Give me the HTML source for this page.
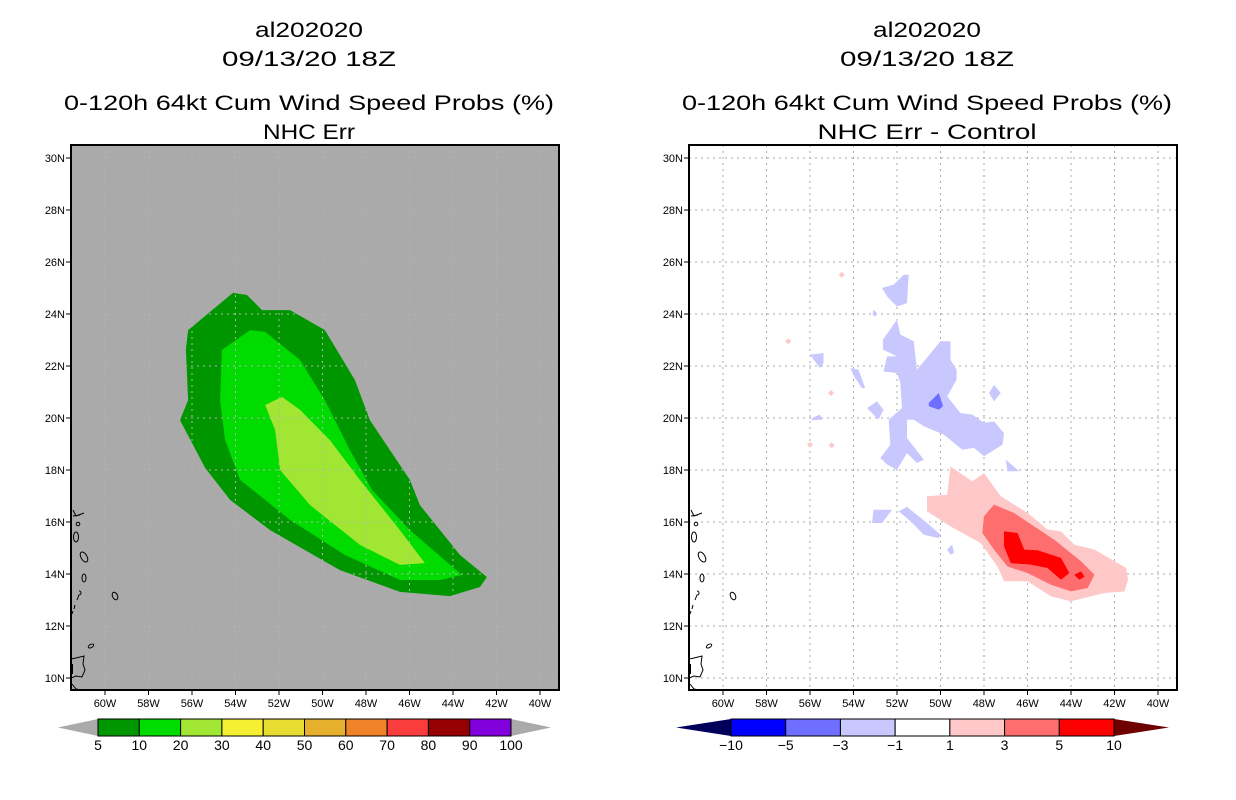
<!DOCTYPE html>
<html><head><meta charset="utf-8"><style>
body{margin:0;background:#fff;width:1236px;height:800px;overflow:hidden}
svg{display:block}
text{font-family:"Liberation Sans",sans-serif}
</style></head><body>
<svg id="s" width="1236" height="800" viewBox="0 0 1236 800">
<g font-size="21" text-anchor="middle" fill="#000" lengthAdjust="spacingAndGlyphs">
<text x="309" y="37" textLength="108" lengthAdjust="spacingAndGlyphs">al202020</text>
<text x="309" y="66" textLength="174" lengthAdjust="spacingAndGlyphs">09/13/20 18Z</text>
<text x="309" y="110" textLength="490" lengthAdjust="spacingAndGlyphs">0-120h 64kt Cum Wind Speed Probs (%)</text>
<text x="309" y="139" textLength="92" lengthAdjust="spacingAndGlyphs">NHC Err</text>
</g>
<g font-size="21" text-anchor="middle" fill="#000">
<text x="927" y="37" textLength="108" lengthAdjust="spacingAndGlyphs">al202020</text>
<text x="927" y="66" textLength="174" lengthAdjust="spacingAndGlyphs">09/13/20 18Z</text>
<text x="927" y="110" textLength="490" lengthAdjust="spacingAndGlyphs">0-120h 64kt Cum Wind Speed Probs (%)</text>
<text x="927" y="139" textLength="219" lengthAdjust="spacingAndGlyphs">NHC Err - Control</text>
</g>
</svg>
<script>
// ---- data ----
const lonTicks=[-60,-58,-56,-54,-52,-50,-48,-46,-44,-42,-40];
const latTicks=[10,12,14,16,18,20,22,24,26,28,30];
const leftLevels=["5","10","20","30","40","50","60","70","80","90","100"];
const leftColors=["#009600","#00dc00","#a0e632","#f5f032","#e6dc32","#e6af2d","#f08228","#fa3c3c","#960000","#8200dc"];
const rightLevels=["-10","-5","-3","-1","1","3","5","10"];
const rightColors=["#0000ff","#6e6eff","#c8c8ff","#ffffff","#ffc8c8","#ff6e6e","#ff0000"];
const prob5=[[-56.18,23.38],[-54.12,24.81],[-53.47,24.73],[-52.78,24.15],[-51.49,24.15],[-49.89,23.38],[-48.51,21.46],[-47.82,19.92],[-45.98,17.62],[-45.52,16.65],[-43.68,14.73],[-42.44,13.88],[-42.76,13.5],[-44.14,13.15],[-46.44,13.31],[-49.2,14.15],[-52.41,15.69],[-54.25,16.85],[-55.4,18.08],[-56.55,19.92],[-56.18,20.69],[-56.28,22.62]];
const prob10=[[-54.62,22.62],[-53.33,23.38],[-52.64,23.31],[-51.03,22.23],[-49.89,20.69],[-48.74,18.77],[-47.72,17.23],[-45.98,15.69],[-43.59,13.96],[-44.6,13.77],[-46.44,13.77],[-48.97,14.73],[-51.49,16.08],[-53.79,17.62],[-54.48,19.15],[-54.71,20.69]];
const prob20=[[-52.64,20.5],[-51.86,20.81],[-51.03,20.31],[-49.66,19.15],[-48.28,17.62],[-46.44,15.69],[-45.29,14.42],[-46.44,14.35],[-48.28,15.12],[-50.57,16.65],[-51.95,18.0],[-52.18,19.54]];
const diffPos1=[[-49.54,18.14],[-48.54,17.56],[-48.0,17.88],[-47.23,16.99],[-46.0,16.35],[-45.08,15.71],[-44.46,15.64],[-43.85,15.13],[-42.92,14.94],[-41.46,14.23],[-41.38,13.78],[-41.54,13.33],[-42.46,13.27],[-44.0,12.95],[-44.92,13.14],[-46.0,13.72],[-47.08,13.72],[-47.38,14.29],[-48.15,15.19],[-49.54,15.83],[-50.62,16.41],[-50.62,16.99],[-49.69,17.05]];
const diffPos3=[[-47.54,16.67],[-46.62,16.35],[-45.69,15.83],[-44.77,15.32],[-43.54,14.49],[-42.92,13.97],[-43.23,13.46],[-44.0,13.33],[-44.92,13.59],[-46.0,14.04],[-46.92,14.29],[-47.54,14.94],[-48.08,15.58],[-48.0,16.22]];
const diffPos5a=[[-47.08,15.64],[-46.46,15.58],[-46.15,14.94],[-45.54,14.91],[-44.46,14.62],[-44.08,14.04],[-44.46,13.78],[-45.08,14.23],[-45.85,14.36],[-46.77,14.42],[-47.08,15.06]];
const diffPos5b=[[-43.85,13.97],[-43.54,14.1],[-43.38,13.9],[-43.62,13.78]];
const diffNegMain=[[-52.0,23.78],[-51.85,23.21],[-51.23,22.95],[-51.08,21.86],[-50.0,22.95],[-49.54,22.95],[-49.54,22.24],[-49.26,21.86],[-49.26,21.47],[-49.69,20.83],[-49.08,20.19],[-48.54,20.13],[-48.0,19.81],[-47.54,19.87],[-47.08,19.42],[-47.15,18.97],[-48.0,18.53],[-48.46,18.85],[-49.0,18.78],[-49.85,19.36],[-50.77,19.68],[-51.23,19.94],[-51.54,19.94],[-51.54,19.23],[-50.77,18.4],[-51.08,18.27],[-51.54,18.65],[-52.0,18.01],[-52.46,18.21],[-52.77,18.46],[-52.31,18.97],[-52.38,19.94],[-51.77,20.38],[-51.85,21.35],[-52.0,21.73],[-52.62,21.79],[-52.46,22.37],[-52.0,22.37],[-52.65,22.63],[-52.65,23.01]];
const diffNegSmall=[
[[-52.69,25.0],[-52.15,25.13],[-51.69,25.51],[-51.46,25.51],[-51.54,24.42],[-52.0,24.29],[-52.46,24.68]],
[[-56.0,22.44],[-55.38,22.5],[-55.38,22.12],[-55.54,21.92]],
[[-54.15,21.92],[-53.77,21.86],[-53.46,21.15],[-53.62,21.15],[-53.92,21.53]],
[[-53.38,20.38],[-52.92,20.64],[-52.62,20.32],[-52.85,19.94]],
[[-47.77,20.96],[-47.54,21.28],[-47.23,20.96],[-47.54,20.64]],
[[-47.0,18.4],[-46.38,17.95],[-46.92,17.95]],
[[-53.08,16.47],[-52.23,16.47],[-52.69,15.96],[-53.15,15.96]],
[[-51.92,16.41],[-51.54,16.58],[-50.62,15.96],[-50.0,15.51],[-50.08,15.38],[-50.77,15.51],[-51.38,16.03]],
[[-49.69,14.94],[-49.46,15.13],[-49.38,14.81],[-49.54,14.74]],
[[-55.92,20.0],[-55.54,20.13],[-55.42,19.94],[-55.92,19.91]],
[[-53.08,24.17],[-52.92,24.04],[-53.0,23.9],[-53.12,23.97]]];
const diffNeg3=[[-50.54,20.58],[-50.08,20.96],[-49.88,20.45],[-50.08,20.32],[-50.54,20.45]];
const diffPosDots=[[-54.54,25.51],[-57.0,22.95],[-55.03,20.96],[-56.0,18.97],[-55.0,18.95]];

// ---- layout ----
const NS="http://www.w3.org/2000/svg";
const svg=document.getElementById('s');
function el(tag,attrs,parent){const e=document.createElementNS(NS,tag);for(const k in attrs)e.setAttribute(k,attrs[k]);(parent||svg).appendChild(e);return e;}
const BOX={x0:71,x1:559,y0:145,y1:690};
function xs(off){return lon=>off+105+(lon+60)*21.75;}
function ys(lat){return 158+(30-lat)*26;}
function pts(arr,X){return arr.map(p=>X(p[0]).toFixed(1)+','+ys(p[1]).toFixed(1)).join(' ');}

function panel(off,bg,name){
  const X=xs(off);
  const g=el('g',{});
  
  
  const cp=el('clipPath',{id:'cp'+off},g);
  el('rect',{x:BOX.x0+off,y:BOX.y0,width:BOX.x1-BOX.x0,height:BOX.y1-BOX.y0},cp);
  const bgr=el('rect',{x:BOX.x0+off,y:BOX.y0,width:BOX.x1-BOX.x0,height:BOX.y1-BOX.y0,fill:bg},g);
  
  
  const fills=el('g',{'clip-path':'url(#cp'+off+')'},g);
  return {X,g,fills};
}
function poly(parent,arr,X,fill,name){
  const p=el('polygon',{points:pts(arr,X),fill:fill},parent);
  
  
  return p;
}
function grid(P,off,color){
  const gg=el('g',{stroke:color,'stroke-width':1,'stroke-dasharray':'2,4'},P.fills);
  
  
  lonTicks.forEach(l=>el('line',{x1:P.X(l),x2:P.X(l),y1:BOX.y0,y2:BOX.y1},gg));
  latTicks.forEach(l=>el('line',{x1:BOX.x0+off,x2:BOX.x1+off,y1:ys(l),y2:ys(l)},gg));
}
function coast(P,off){
  const c=el('g',{fill:'none',stroke:'#000','stroke-width':1},P.fills);
  
  
  const o=off;
  el('path',{d:`M${73+o},510 L${76+o},516 L${84+o},513 M${73+o},516 L${80+o},515`},c);
  el('circle',{cx:78+o,cy:524,r:1.8},c);
  el('ellipse',{cx:76+o,cy:537,rx:2.5,ry:5},c);
  el('ellipse',{cx:84+o,cy:557,rx:3,ry:5.5,transform:`rotate(-30 ${84+o} 557)`},c);
  el('ellipse',{cx:84+o,cy:578,rx:2,ry:4},c);
  el('path',{d:`M${79+o},591 a2,2 0 1,1 0,4 L${77+o},600 M${75+o},605 l-1,4 M${73+o},611 l-1,3`},c);
  el('ellipse',{cx:115+o,cy:596,rx:2.5,ry:4,transform:`rotate(-25 ${115+o} 596)`},c);
  el('ellipse',{cx:91+o,cy:646,rx:3,ry:1.6,transform:`rotate(-30 ${91+o} 646)`},c);
  el('path',{d:`M${71+o},659 L${76+o},658 L${84+o},656 L${83+o},664 L${85+o},670 L${82+o},677 L${76+o},676 L${71+o},678 M${72+o},684 L${76+o},689 L${81+o},690`},c);
  el('rect',{x:71+o,y:664,width:2,height:10,fill:'#000',stroke:'none'},c);
}
function axes(P,off){
  const a=el('g',{},P.g);
  
  
  const fr=el('rect',{x:BOX.x0+off,y:BOX.y0,width:BOX.x1-BOX.x0,height:BOX.y1-BOX.y0,fill:'none',stroke:'#000','stroke-width':2},a);
  
  
  lonTicks.forEach(l=>{
    el('line',{x1:P.X(l),x2:P.X(l),y1:BOX.y1,y2:BOX.y1+5,stroke:'#000'},a);
    const t=el('text',{x:P.X(l),y:BOX.y1+17,'font-size':11,'text-anchor':'middle'},a);
    t.textContent=(-l)+'W';
    
    
  });
  latTicks.forEach(l=>{
    el('line',{x1:BOX.x0+off-5,x2:BOX.x0+off,y1:ys(l),y2:ys(l),stroke:'#000'},a);
    const t=el('text',{x:BOX.x0+off-6,y:ys(l)+4,'font-size':11,'text-anchor':'end'},a);
    t.textContent=l+'N';
    
    
  });
}
function colorbar(x0,x1,y,colors,levels,leftTri,rightTri,triW,name){
  const g=el('g',{});
  
  
  const h=17, w=(x1-x0)/colors.length;
  el('polygon',{points:`${x0-triW},${y+h/2} ${x0},${y} ${x0},${y+h}`,fill:leftTri},g);
  el('polygon',{points:`${x1+triW},${y+h/2} ${x1},${y} ${x1},${y+h}`,fill:rightTri},g);
  colors.forEach((c,i)=>{
    const r=el('rect',{x:x0+i*w,y:y,width:w,height:h,fill:c,stroke:'#000','stroke-width':1},g);
    
    
  });
  levels.forEach((lv,i)=>{
    const t=el('text',{x:x0+i*w,y:y+h+14,'font-size':14,'text-anchor':'middle'},g);
    t.textContent=lv.replace('-','\u2212');
    
    
  });
}

// left panel
const L=panel(0,'#aaaaaa','left-map-panel');
poly(L.fills,prob5,L.X,leftColors[0],'prob-5-10');
poly(L.fills,prob10,L.X,leftColors[1],'prob-10-20');
poly(L.fills,prob20,L.X,leftColors[2],'prob-20-30');
grid(L,0,'#b4b4b4');
coast(L,0);
axes(L,0);
colorbar(98,511,719,leftColors,leftLevels,'#aaaaaa','#aaaaaa',40,'left-colorbar');

// right panel
const OFF=618;
const R=panel(OFF,'#ffffff','right-map-panel');
grid(R,OFF,'#aaaaaa');
poly(R.fills,diffNegMain,R.X,rightColors[2],'diff-neg-1-3-main');
diffNegSmall.forEach(a=>poly(R.fills,a,R.X,rightColors[2],'diff-neg-1-3-blob'));
poly(R.fills,diffNeg3,R.X,rightColors[1],'diff-neg-3-5');
poly(R.fills,diffPos1,R.X,rightColors[4],'diff-pos-1-3');
poly(R.fills,diffPos3,R.X,rightColors[5],'diff-pos-3-5');
poly(R.fills,diffPos5a,R.X,rightColors[6],'diff-pos-5-10');
poly(R.fills,diffPos5b,R.X,rightColors[6],'diff-pos-5-10-small');
diffPosDots.forEach(d=>{
  const x=R.X(d[0]),y=ys(d[1]);
  const p=el('polygon',{points:`${x},${y-3} ${x+3},${y} ${x},${y+3} ${x-3},${y}`,fill:rightColors[4]},R.fills);
  
  
});
coast(R,OFF);
axes(R,OFF);
colorbar(731,1114,719,rightColors,rightLevels,'#00005a','#6e0000',55,'right-colorbar');
</script>
</body></html>
